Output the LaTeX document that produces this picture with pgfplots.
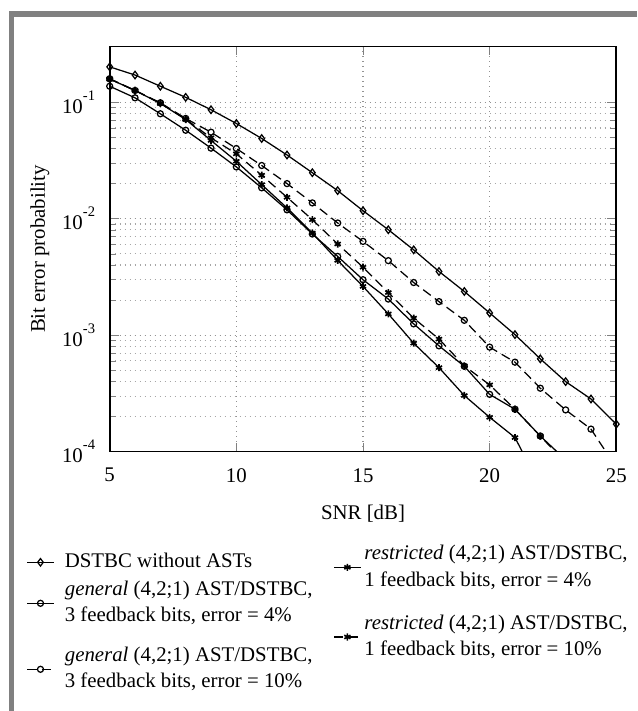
\documentclass[border=0pt]{standalone}
\usepackage{fontspec}
\setmainfont{Liberation Serif}
\usepackage{pgfplots}
\pgfplotsset{compat=1.18}
\pgfplotsset{
  myaxis/.style={at={(52.656pt,-216.768pt)}, anchor=south west, scale only axis,
    width=243.168pt, height=194.4pt},
  mylegend/.style={legend style={draw=none, fill=none, inner sep=0pt,
      cells={anchor=west, align=left}, nodes={inner sep=1pt}},
    legend image code/.code={\draw[mark repeat=2,mark phase=2,##1] plot coordinates {(0cm,0cm)(0.225cm,0cm)(0.45cm,0cm)};}},
  sdiam/.style={black, solid, line width=0.6pt, mark=diamond, mark size=1.8pt, mark options={solid, fill=white}},
  sgen4/.style={black, solid, line width=0.6pt, mark=o, mark size=1.45pt, mark options={solid}},
  sgen10/.style={black, line width=0.6pt, dash pattern=on 4.5pt off 2.5pt, mark=o, mark size=1.45pt, mark options={solid}},
  sr4/.style={black, solid, line width=0.6pt, mark=asterisk, mark size=1.7pt, mark options={solid, line width=0.8pt}},
  sr10/.style={black, line width=0.6pt, dash pattern=on 4.5pt off 2.5pt, mark=asterisk, mark size=1.7pt, mark options={solid, line width=0.8pt}},
}
\begin{document}
\begin{tikzpicture}
\path[use as bounding box] (0pt,0pt) rectangle (305.76pt,-341.28pt);
\fill[gray] (4.32pt,-5.28pt) rectangle (305.76pt,-8.16pt);
\fill[gray] (4.32pt,-5.28pt) rectangle (6.72pt,-341.28pt);
\begin{axis}[myaxis, mylegend,
  xmin=5, xmax=25, ymode=log, ymin=1e-4, ymax=0.3,
  xtick={5,10,15,20,25},
  ytick={1e-4,1e-3,1e-2,1e-1},
  yticklabels={10\raisebox{0.62em}{\scriptsize -4},10\raisebox{0.62em}{\scriptsize -3},10\raisebox{0.62em}{\scriptsize -2},10\raisebox{0.62em}{\scriptsize -1}},
  /pgf/number format/assume math mode=true,
  xticklabel style={yshift=-4.5pt},
  yticklabel style={xshift=-3.5pt},
  axis line style={line width=0.8pt},
  grid=both,
  major grid style={dotted, gray!85, line width=0.5pt},
  minor grid style={dotted, gray!70, line width=0.5pt},
  xlabel={SNR [dB]}, ylabel={Bit error probability},
  xlabel style={at={(axis description cs:0.5,-0.154)}, anchor=center},
  ylabel style={at={(axis description cs:-0.1376,0.5)}, anchor=center},
  legend style={at={(axis description cs:-0.165,-0.2454)}, anchor=north west, row sep=3pt, column sep=4pt},
]
\addlegendimage{sdiam}
\addlegendentry{DSTBC without ASTs}
\addlegendimage{sgen4}
\addlegendentry{\textit{general} (4,2;1) AST/DSTBC,\\[0.5pt]3 feedback bits, error = 4\%}

\addplot[sdiam, forget plot] coordinates {(5,0.201)(6,0.171)(7,0.137)(8,0.110)(9,0.0861)(10,0.0656)(11,0.0488)(12,0.0352)(13,0.0248)(14,0.0174)(15,0.0117)(16,0.00803)(17,0.0054)(18,0.00352)(19,0.00237)(20,0.00155)(21,0.00101)(22,0.000626)(23,0.000399)(24,0.000283)(25,0.000172)};
\addplot[sgen10, forget plot] coordinates {(5,0.159)(6,0.126)(7,0.0988)(8,0.0725)(9,0.0552)(10,0.040)(11,0.0286)(12,0.020)(13,0.01365)(14,0.00918)(15,0.00638)(16,0.00436)(17,0.00283)(18,0.00194)(19,0.00134)(20,0.000789)(21,0.000586)(22,0.00035)(23,0.000228)(24,0.000156)(25,0.000073)};
\addplot[sr10, forget plot] coordinates {(5,0.158)(6,0.126)(7,0.098)(8,0.0715)(9,0.0494)(10,0.036)(11,0.0236)(12,0.01525)(13,0.0098)(14,0.00606)(15,0.00383)(16,0.00232)(17,0.0014)(18,0.000925)(19,0.000545)(20,0.000374)(21,0.000231)(22,0.000136)(23,0.00008)};
\addplot[sr4, forget plot] coordinates {(5,0.158)(6,0.126)(7,0.0975)(8,0.071)(9,0.0469)(10,0.0311)(11,0.0196)(12,0.01236)(13,0.00753)(14,0.00438)(15,0.00262)(16,0.00152)(17,0.000853)(18,0.000526)(19,0.000303)(20,0.000197)(21,0.000132)(22,0.00005)};
\addplot[sgen4, forget plot] coordinates {(5,0.137)(6,0.109)(7,0.0795)(8,0.0574)(9,0.0403)(10,0.0278)(11,0.0184)(12,0.0119)(13,0.00738)(14,0.00474)(15,0.00299)(16,0.00204)(17,0.00125)(18,0.000809)(19,0.00054)(20,0.00031)(21,0.000231)(22,0.000136)(23,0.000085)};
\end{axis}
\begin{axis}[myaxis, mylegend, hide axis, xmin=0, xmax=1, ymin=0, ymax=1,
  legend style={at={(axis description cs:-0.165,-0.4775)}, anchor=north west, column sep=4pt}]
\addlegendimage{sgen10}
\addlegendentry{\textit{general} (4,2;1) AST/DSTBC,\\[0.5pt]3 feedback bits, error = 10\%}
\end{axis}
\begin{axis}[myaxis, mylegend, hide axis, xmin=0, xmax=1, ymin=0, ymax=1,
  legend style={at={(axis description cs:0.4408,-0.2257)}, anchor=north west, row sep=10.5pt, column sep=0.5pt}]
\addlegendimage{sr4}
\addlegendentry{\textit{restricted} (4,2;1) AST/DSTBC,\\[0.5pt]1 feedback bits, error = 4\%}
\addlegendimage{sr10}
\addlegendentry{\textit{restricted} (4,2;1) AST/DSTBC,\\[0.5pt]1 feedback bits, error = 10\%}
\end{axis}
\end{tikzpicture}
\end{document}
